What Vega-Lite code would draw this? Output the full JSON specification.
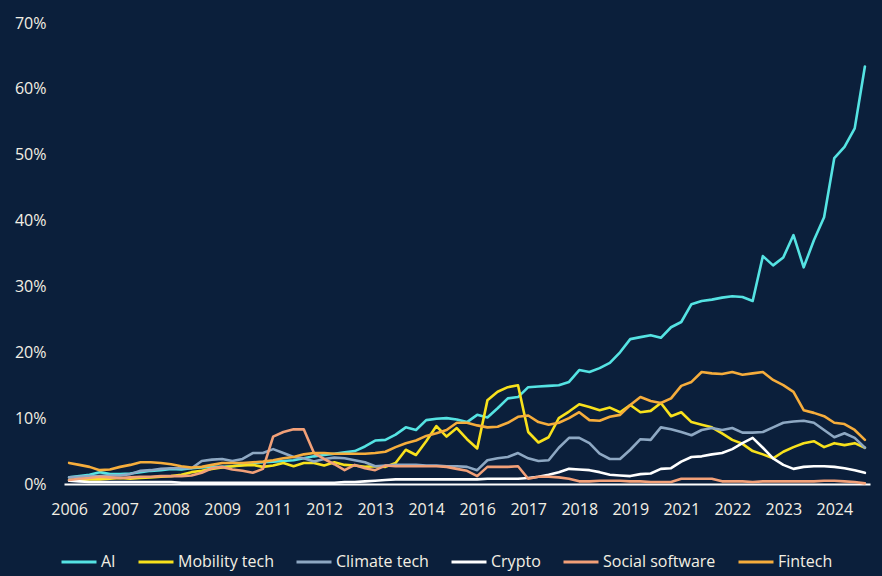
{
  "$schema": "https://vega.github.io/schema/vega-lite/v6.json",
  "width": 806,
  "height": 461,
  "autosize": {"type": "none"},
  "padding": {"left": 64, "top": 23, "right": 12, "bottom": 92},
  "background": "#0b1f3b",
  "config": {
    "view": {"stroke": null},
    "font": "Open Sans"
  },
  "data": {
    "values": [
      {"q": "2006Q1", "AI": 1.0, "Mobility tech": 0.6, "Climate tech": 1.0, "Crypto": 0.5, "Social software": 0.6, "Fintech": 3.2},
      {"q": "2006Q2", "AI": 1.2, "Mobility tech": 0.6, "Climate tech": 1.1, "Crypto": 0.4, "Social software": 0.8, "Fintech": 2.9},
      {"q": "2006Q3", "AI": 1.4, "Mobility tech": 0.7, "Climate tech": 1.2, "Crypto": 0.3, "Social software": 0.9, "Fintech": 2.6},
      {"q": "2006Q4", "AI": 1.8, "Mobility tech": 0.7, "Climate tech": 1.2, "Crypto": 0.3, "Social software": 1.1, "Fintech": 2.1},
      {"q": "2007Q1", "AI": 1.5, "Mobility tech": 0.8, "Climate tech": 1.3, "Crypto": 0.3, "Social software": 1.0, "Fintech": 2.2},
      {"q": "2007Q2", "AI": 1.5, "Mobility tech": 0.9, "Climate tech": 1.3, "Crypto": 0.3, "Social software": 0.9, "Fintech": 2.6},
      {"q": "2007Q3", "AI": 1.6, "Mobility tech": 0.8, "Climate tech": 1.5, "Crypto": 0.3, "Social software": 1.0, "Fintech": 2.9},
      {"q": "2007Q4", "AI": 1.8, "Mobility tech": 0.9, "Climate tech": 2.0, "Crypto": 0.3, "Social software": 1.1, "Fintech": 3.3},
      {"q": "2008Q1", "AI": 2.0, "Mobility tech": 1.0, "Climate tech": 2.1, "Crypto": 0.3, "Social software": 1.1, "Fintech": 3.3},
      {"q": "2008Q2", "AI": 2.1, "Mobility tech": 1.1, "Climate tech": 2.3, "Crypto": 0.3, "Social software": 1.2, "Fintech": 3.2},
      {"q": "2008Q3", "AI": 2.3, "Mobility tech": 1.2, "Climate tech": 2.4, "Crypto": 0.3, "Social software": 1.2, "Fintech": 3.0},
      {"q": "2008Q4", "AI": 2.2, "Mobility tech": 1.4, "Climate tech": 2.4, "Crypto": 0.2, "Social software": 1.2, "Fintech": 2.7},
      {"q": "2009Q1", "AI": 2.4, "Mobility tech": 1.8, "Climate tech": 2.4, "Crypto": 0.2, "Social software": 1.3, "Fintech": 2.5},
      {"q": "2009Q2", "AI": 2.5, "Mobility tech": 2.0, "Climate tech": 3.5, "Crypto": 0.2, "Social software": 1.7, "Fintech": 2.6},
      {"q": "2009Q3", "AI": 2.6, "Mobility tech": 2.3, "Climate tech": 3.7, "Crypto": 0.2, "Social software": 2.4, "Fintech": 2.9},
      {"q": "2009Q4", "AI": 2.6, "Mobility tech": 2.5, "Climate tech": 3.8, "Crypto": 0.2, "Social software": 2.6, "Fintech": 3.2},
      {"q": "2010Q1", "AI": 2.7, "Mobility tech": 2.7, "Climate tech": 3.5, "Crypto": 0.2, "Social software": 2.2, "Fintech": 3.2},
      {"q": "2010Q2", "AI": 2.9, "Mobility tech": 2.8, "Climate tech": 3.8, "Crypto": 0.2, "Social software": 2.0, "Fintech": 3.2},
      {"q": "2010Q3", "AI": 3.2, "Mobility tech": 2.9, "Climate tech": 4.7, "Crypto": 0.2, "Social software": 1.7, "Fintech": 3.3},
      {"q": "2010Q4", "AI": 3.3, "Mobility tech": 2.6, "Climate tech": 4.7, "Crypto": 0.2, "Social software": 2.3, "Fintech": 3.4},
      {"q": "2011Q1", "AI": 3.4, "Mobility tech": 2.8, "Climate tech": 5.3, "Crypto": 0.2, "Social software": 7.2, "Fintech": 3.6},
      {"q": "2011Q2", "AI": 3.5, "Mobility tech": 3.2, "Climate tech": 4.7, "Crypto": 0.2, "Social software": 7.9, "Fintech": 3.9},
      {"q": "2011Q3", "AI": 3.6, "Mobility tech": 2.7, "Climate tech": 4.1, "Crypto": 0.2, "Social software": 8.3, "Fintech": 4.1},
      {"q": "2011Q4", "AI": 3.9, "Mobility tech": 3.2, "Climate tech": 3.9, "Crypto": 0.2, "Social software": 8.3, "Fintech": 4.5},
      {"q": "2012Q1", "AI": 4.2, "Mobility tech": 3.2, "Climate tech": 3.4, "Crypto": 0.2, "Social software": 4.7, "Fintech": 4.7},
      {"q": "2012Q2", "AI": 4.4, "Mobility tech": 2.8, "Climate tech": 3.8, "Crypto": 0.2, "Social software": 3.8, "Fintech": 4.7},
      {"q": "2012Q3", "AI": 4.6, "Mobility tech": 3.3, "Climate tech": 4.0, "Crypto": 0.2, "Social software": 3.0, "Fintech": 4.6},
      {"q": "2012Q4", "AI": 4.8, "Mobility tech": 2.9, "Climate tech": 3.9, "Crypto": 0.3, "Social software": 2.1, "Fintech": 4.6},
      {"q": "2013Q1", "AI": 5.0, "Mobility tech": 2.8, "Climate tech": 3.6, "Crypto": 0.3, "Social software": 2.9, "Fintech": 4.6},
      {"q": "2013Q2", "AI": 5.7, "Mobility tech": 2.6, "Climate tech": 3.3, "Crypto": 0.4, "Social software": 2.4, "Fintech": 4.6},
      {"q": "2013Q3", "AI": 6.6, "Mobility tech": 2.7, "Climate tech": 2.7, "Crypto": 0.5, "Social software": 2.1, "Fintech": 4.7},
      {"q": "2013Q4", "AI": 6.7, "Mobility tech": 2.6, "Climate tech": 2.8, "Crypto": 0.6, "Social software": 2.8, "Fintech": 4.9},
      {"q": "2014Q1", "AI": 7.5, "Mobility tech": 3.2, "Climate tech": 2.9, "Crypto": 0.7, "Social software": 2.7, "Fintech": 5.6},
      {"q": "2014Q2", "AI": 8.6, "Mobility tech": 5.2, "Climate tech": 2.9, "Crypto": 0.7, "Social software": 2.7, "Fintech": 6.2},
      {"q": "2014Q3", "AI": 8.2, "Mobility tech": 4.4, "Climate tech": 2.9, "Crypto": 0.7, "Social software": 2.7, "Fintech": 6.6},
      {"q": "2014Q4", "AI": 9.7, "Mobility tech": 6.5, "Climate tech": 2.8, "Crypto": 0.7, "Social software": 2.7, "Fintech": 7.3},
      {"q": "2015Q1", "AI": 9.9, "Mobility tech": 8.8, "Climate tech": 2.8, "Crypto": 0.7, "Social software": 2.7, "Fintech": 7.7},
      {"q": "2015Q2", "AI": 10.0, "Mobility tech": 7.2, "Climate tech": 2.7, "Crypto": 0.7, "Social software": 2.6, "Fintech": 8.2},
      {"q": "2015Q3", "AI": 9.8, "Mobility tech": 8.5, "Climate tech": 2.7, "Crypto": 0.7, "Social software": 2.3, "Fintech": 9.3},
      {"q": "2015Q4", "AI": 9.4, "Mobility tech": 6.8, "Climate tech": 2.6, "Crypto": 0.7, "Social software": 2.0, "Fintech": 9.3},
      {"q": "2016Q1", "AI": 10.5, "Mobility tech": 5.4, "Climate tech": 2.1, "Crypto": 0.7, "Social software": 1.2, "Fintech": 8.9},
      {"q": "2016Q2", "AI": 10.1, "Mobility tech": 12.7, "Climate tech": 3.6, "Crypto": 0.8, "Social software": 2.6, "Fintech": 8.6},
      {"q": "2016Q3", "AI": 11.5, "Mobility tech": 14.0, "Climate tech": 3.9, "Crypto": 0.8, "Social software": 2.6, "Fintech": 8.7},
      {"q": "2016Q4", "AI": 13.0, "Mobility tech": 14.7, "Climate tech": 4.1, "Crypto": 0.8, "Social software": 2.6, "Fintech": 9.3},
      {"q": "2017Q1", "AI": 13.2, "Mobility tech": 15.0, "Climate tech": 4.7, "Crypto": 0.8, "Social software": 2.7, "Fintech": 10.2},
      {"q": "2017Q2", "AI": 14.7, "Mobility tech": 7.9, "Climate tech": 3.9, "Crypto": 0.9, "Social software": 0.8, "Fintech": 10.4},
      {"q": "2017Q3", "AI": 14.8, "Mobility tech": 6.3, "Climate tech": 3.5, "Crypto": 1.1, "Social software": 1.1, "Fintech": 9.4},
      {"q": "2017Q4", "AI": 14.9, "Mobility tech": 7.1, "Climate tech": 3.6, "Crypto": 1.4, "Social software": 1.1, "Fintech": 9.0},
      {"q": "2018Q1", "AI": 15.0, "Mobility tech": 10.0, "Climate tech": 5.5, "Crypto": 1.8, "Social software": 1.0, "Fintech": 9.3},
      {"q": "2018Q2", "AI": 15.5, "Mobility tech": 11.0, "Climate tech": 7.0, "Crypto": 2.3, "Social software": 0.8, "Fintech": 10.0},
      {"q": "2018Q3", "AI": 17.3, "Mobility tech": 12.1, "Climate tech": 7.0, "Crypto": 2.2, "Social software": 0.4, "Fintech": 10.9},
      {"q": "2018Q4", "AI": 17.0, "Mobility tech": 11.7, "Climate tech": 6.2, "Crypto": 2.1, "Social software": 0.4, "Fintech": 9.7},
      {"q": "2019Q1", "AI": 17.6, "Mobility tech": 11.2, "Climate tech": 4.6, "Crypto": 1.8, "Social software": 0.5, "Fintech": 9.6},
      {"q": "2019Q2", "AI": 18.4, "Mobility tech": 11.6, "Climate tech": 3.8, "Crypto": 1.4, "Social software": 0.5, "Fintech": 10.2},
      {"q": "2019Q3", "AI": 20.0, "Mobility tech": 10.9, "Climate tech": 3.8, "Crypto": 1.3, "Social software": 0.5, "Fintech": 10.5},
      {"q": "2019Q4", "AI": 22.0, "Mobility tech": 12.0, "Climate tech": 5.2, "Crypto": 1.2, "Social software": 0.4, "Fintech": 12.0},
      {"q": "2020Q1", "AI": 22.3, "Mobility tech": 10.9, "Climate tech": 6.8, "Crypto": 1.5, "Social software": 0.4, "Fintech": 13.2},
      {"q": "2020Q2", "AI": 22.6, "Mobility tech": 11.1, "Climate tech": 6.7, "Crypto": 1.6, "Social software": 0.3, "Fintech": 12.6},
      {"q": "2020Q3", "AI": 22.2, "Mobility tech": 12.3, "Climate tech": 8.6, "Crypto": 2.3, "Social software": 0.3, "Fintech": 12.3},
      {"q": "2020Q4", "AI": 23.8, "Mobility tech": 10.3, "Climate tech": 8.3, "Crypto": 2.4, "Social software": 0.3, "Fintech": 13.0},
      {"q": "2021Q1", "AI": 24.6, "Mobility tech": 10.9, "Climate tech": 7.9, "Crypto": 3.4, "Social software": 0.8, "Fintech": 14.9},
      {"q": "2021Q2", "AI": 27.3, "Mobility tech": 9.4, "Climate tech": 7.4, "Crypto": 4.1, "Social software": 0.8, "Fintech": 15.5},
      {"q": "2021Q3", "AI": 27.8, "Mobility tech": 9.0, "Climate tech": 8.2, "Crypto": 4.2, "Social software": 0.8, "Fintech": 17.0},
      {"q": "2021Q4", "AI": 28.0, "Mobility tech": 8.6, "Climate tech": 8.5, "Crypto": 4.5, "Social software": 0.8, "Fintech": 16.8},
      {"q": "2022Q1", "AI": 28.3, "Mobility tech": 7.7, "Climate tech": 8.2, "Crypto": 4.7, "Social software": 0.4, "Fintech": 16.7},
      {"q": "2022Q2", "AI": 28.5, "Mobility tech": 6.7, "Climate tech": 8.5, "Crypto": 5.3, "Social software": 0.4, "Fintech": 17.0},
      {"q": "2022Q3", "AI": 28.4, "Mobility tech": 6.1, "Climate tech": 7.8, "Crypto": 6.2, "Social software": 0.4, "Fintech": 16.6},
      {"q": "2022Q4", "AI": 27.8, "Mobility tech": 5.0, "Climate tech": 7.8, "Crypto": 7.0, "Social software": 0.3, "Fintech": 16.8},
      {"q": "2023Q1", "AI": 34.6, "Mobility tech": 4.5, "Climate tech": 7.9, "Crypto": 5.5, "Social software": 0.4, "Fintech": 17.0},
      {"q": "2023Q2", "AI": 33.2, "Mobility tech": 3.9, "Climate tech": 8.6, "Crypto": 3.9, "Social software": 0.4, "Fintech": 15.8},
      {"q": "2023Q3", "AI": 34.4, "Mobility tech": 4.9, "Climate tech": 9.3, "Crypto": 2.9, "Social software": 0.4, "Fintech": 15.0},
      {"q": "2023Q4", "AI": 37.8, "Mobility tech": 5.6, "Climate tech": 9.5, "Crypto": 2.3, "Social software": 0.4, "Fintech": 14.0},
      {"q": "2024Q1", "AI": 32.9, "Mobility tech": 6.2, "Climate tech": 9.6, "Crypto": 2.6, "Social software": 0.4, "Fintech": 11.2},
      {"q": "2024Q2", "AI": 37.0, "Mobility tech": 6.5, "Climate tech": 9.3, "Crypto": 2.7, "Social software": 0.4, "Fintech": 10.8},
      {"q": "2024Q3", "AI": 40.5, "Mobility tech": 5.6, "Climate tech": 8.2, "Crypto": 2.7, "Social software": 0.5, "Fintech": 10.3},
      {"q": "2024Q4", "AI": 49.5, "Mobility tech": 6.2, "Climate tech": 7.1, "Crypto": 2.6, "Social software": 0.5, "Fintech": 9.3},
      {"q": "2025Q1", "AI": 51.2, "Mobility tech": 5.9, "Climate tech": 7.7, "Crypto": 2.4, "Social software": 0.4, "Fintech": 9.1},
      {"q": "2025Q2", "AI": 54.0, "Mobility tech": 6.2, "Climate tech": 7.0, "Crypto": 2.1, "Social software": 0.3, "Fintech": 8.2},
      {"q": "2025Q3", "AI": 63.4, "Mobility tech": 5.5, "Climate tech": 5.5, "Crypto": 1.7, "Social software": 0.1, "Fintech": 6.7}
    ]
  },
  "transform": [
    {"fold": ["AI", "Mobility tech", "Climate tech", "Crypto", "Social software", "Fintech"], "as": ["series", "share"]}
  ],
  "mark": {"type": "line", "strokeWidth": 2.6, "strokeJoin": "round", "strokeCap": "round"},
  "encoding": {
    "x": {
      "field": "q",
      "type": "ordinal",
      "scale": {"type": "point", "padding": 0.5},
      "axis": {
        "title": null,
        "values": ["2006Q1", "2007Q2", "2008Q3", "2009Q4", "2011Q1", "2012Q2", "2013Q3", "2014Q4", "2016Q1", "2017Q2", "2018Q3", "2019Q4", "2021Q1", "2022Q2", "2023Q3", "2024Q4"],
        "labelExpr": "substring(datum.value, 0, 4)",
        "labelAngle": 0,
        "labelColor": "#f3efe4",
        "labelFontSize": 16,
        "labelPadding": 17,
        "ticks": false,
        "grid": false,
        "domainColor": "#ffffff",
        "domainWidth": 2
      }
    },
    "y": {
      "field": "share",
      "type": "quantitative",
      "scale": {"domain": [0, 70], "nice": false},
      "axis": {
        "title": null,
        "values": [0, 10, 20, 30, 40, 50, 60, 70],
        "labelExpr": "datum.value + '%'",
        "labelColor": "#f3efe4",
        "labelFontSize": 16,
        "labelPadding": 18,
        "ticks": false,
        "grid": false,
        "domain": false
      }
    },
    "color": {
      "field": "series",
      "type": "nominal",
      "scale": {
        "domain": ["AI", "Mobility tech", "Climate tech", "Crypto", "Social software", "Fintech"],
        "range": ["#55e3e3", "#f8e11c", "#8ea8c3", "#ffffff", "#f2a078", "#f6ad3c"]
      },
      "legend": {
        "title": null,
        "orient": "none",
        "direction": "horizontal",
        "legendX": -4,
        "legendY": 520,
        "symbolType": "stroke",
        "symbolSize": 1225,
        "symbolStrokeWidth": 3,
        "labelOffset": 3,
        "columnPadding": 16,
        "labelColor": "#f3efe4",
        "labelFontSize": 16
      }
    }
  }
}
